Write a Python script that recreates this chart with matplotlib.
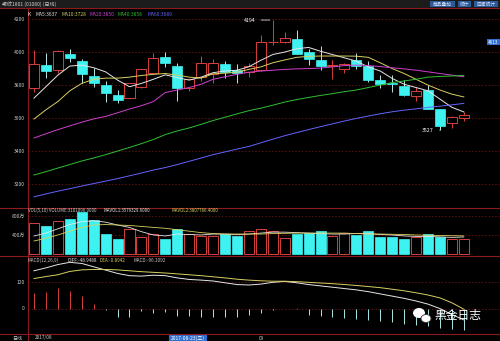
import numpy as np
import matplotlib
matplotlib.use("Agg")
import matplotlib.pyplot as plt
from matplotlib.patches import Ellipse, Rectangle

plt.rcParams['font.family'] = ['Noto Sans CJK SC', 'DejaVu Sans']

# ---------------- data ----------------
opens = [3780, 3921, 3891, 3988, 3945, 3856, 3798, 3739, 3723, 3786, 3871, 3968, 3915,
         3780, 3851, 3870, 3925, 3891, 3880, 3891, 4058, 4059, 4079, 3998, 3952, 3917,
         3900, 3952, 3915, 3830, 3814, 3796, 3735, 3770, 3653, 3572, 3598]
highs = [4012, 3992, 4010, 4016, 3960, 3903, 3824, 3770, 3815, 3900, 3994, 3998, 3931,
         3845, 3976, 3960, 3945, 3925, 3935, 4103, 4194, 4123, 4133, 4020, 4038, 3950,
         3935, 3992, 3945, 3860, 3860, 3830, 3790, 3800, 3655, 3610, 3638]
lows = [3760, 3842, 3873, 3941, 3812, 3788, 3699, 3693, 3720, 3780, 3865, 3911, 3705,
        3765, 3824, 3812, 3842, 3812, 3851, 3885, 4042, 4055, 3986, 3922, 3891, 3834,
        3875, 3900, 3820, 3780, 3757, 3735, 3703, 3655, 3527, 3540, 3585]
closes = [3927, 3885, 4006, 3965, 3865, 3810, 3750, 3707, 3810, 3895, 3962, 3935, 3780,
          3836, 3931, 3931, 3881, 3871, 3915, 4063, 4062, 4087, 3986, 3958, 3917, 3921,
          3925, 3917, 3830, 3806, 3804, 3739, 3763, 3655, 3553, 3604, 3618]

ma5 = [3721, 3790, 3860, 3915, 3921, 3905, 3880, 3830, 3790, 3810, 3835, 3862, 3845,
       3830, 3848, 3875, 3885, 3890, 3911, 3950, 3985, 4000, 4020, 4028, 4005, 3985,
       3965, 3945, 3910, 3885, 3840, 3805, 3785, 3765, 3715, 3665, 3637]
ma10 = [3594, 3650, 3700, 3765, 3810, 3835, 3842, 3842, 3848, 3858, 3865, 3870, 3860,
        3848, 3842, 3868, 3872, 3878, 3895, 3910, 3935, 3952, 3968, 3974, 3976, 3976,
        3976, 3975, 3968, 3935, 3900, 3870, 3835, 3800, 3770, 3745, 3728]
ma20 = [3479, 3505, 3530, 3553, 3575, 3595, 3610, 3632, 3655, 3675, 3700, 3755, 3770,
        3785, 3805, 3835, 3850, 3865, 3878, 3885, 3890, 3895, 3898, 3900, 3903, 3910,
        3918, 3921, 3918, 3912, 3905, 3898, 3890, 3880, 3870, 3860, 3850]
ma40 = [3255, 3275, 3297, 3318, 3340, 3358, 3378, 3400, 3422, 3445, 3470, 3500, 3522,
        3540, 3562, 3585, 3605, 3625, 3645, 3660, 3678, 3697, 3712, 3725, 3737, 3748,
        3760, 3770, 3785, 3800, 3815, 3825, 3835, 3848, 3852, 3855, 3858]
ma60 = [3123, 3140, 3157, 3172, 3188, 3203, 3218, 3233, 3250, 3267, 3285, 3300, 3318,
        3338, 3358, 3378, 3395, 3412, 3428, 3450, 3472, 3493, 3512, 3530, 3548, 3565,
        3582, 3598, 3612, 3626, 3638, 3648, 3656, 3665, 3672, 3680, 3689]

# volume in 万
volume = [646, 590, 695, 737, 891, 716, 414, 309, 520, 358, 421, 316, 520, 421, 386,
          386, 421, 386, 484, 526, 484, 337, 414, 435, 484, 379, 435, 400, 484, 358,
          365, 316, 351, 414, 358, 323, 310]
mavol1 = [379, 440, 530, 620, 680, 700, 670, 610, 560, 470, 400, 380, 420, 410, 400,
          420, 420, 410, 420, 440, 460, 460, 450, 440, 430, 420, 420, 430, 430, 410,
          400, 380, 370, 370, 360, 350, 358]
mavol2 = [274, 330, 400, 480, 560, 610, 620, 610, 600, 580, 560, 541, 510, 480, 450,
          430, 420, 420, 420, 420, 430, 435, 440, 440, 440, 440, 440, 430, 420, 420,
          415, 410, 400, 395, 390, 385, 381]

diff = [172, 185, 200, 210, 205, 190, 175, 160, 150, 148, 152, 150, 140, 133, 130, 126,
        118, 110, 108, 112, 120, 124, 118, 110, 104, 98, 92, 86, 78, 68, 58, 48, 36, 22,
        2, -25, -49]
dea = [137, 146, 154, 169, 176, 178, 178, 176, 172, 168, 165, 162, 158, 154, 150, 145,
       140, 134, 130, 127, 125, 125, 123, 120, 117, 114, 110, 106, 101, 96, 89, 82, 73,
       63, 50, 28, -1]
macd_hist = [70, 78, 93, 81, 59, 23, -3, -35, -38, -8, -20, -15, -30, -30, -35, -35, -35,
             -35, -25, -20, -5, 2, 5, -25, -30, -35, -40, -45, -50, -55, -60, -66, -72,
             -78, -85, -92, -96]

price_ticks = [4200, 4000, 3800, 3600, 3400, 3200]
vol_ticks = [400, 800]
vol_tick_labels = ['400万', '800万']
macd_ticks = [0, 120]

# ---------------- styling ----------------
BG = 'black'
UP = '#d8413c'
DOWN = '#3ff2f2'
BORDER = '#8e1b1b'
GRID = '#5c1414'
TXT = '#c8c8c8'
C_MA5, C_MA10, C_MA20, C_MA40, C_MA60 = '#e6e6e6', '#d8d060', '#d040d0', '#30c030', '#6464ff'

W, H = 500, 341
fig = plt.figure(figsize=(W / 100, H / 100), dpi=100, facecolor=BG)


def px_axes(x0, y0, x1, y1):
    ax = fig.add_axes([x0 / W, 1 - y1 / H, (x1 - x0) / W, (y1 - y0) / H])
    ax.set_facecolor(BG)
    for s in ax.spines.values():
        s.set_visible(False)
    ax.set_xticks([])
    ax.set_yticks([])
    ax.set_xlim(-0.5, 39.03)
    return ax


def px_text(xp, yp, s, color=TXT, size=3.4, ha='left'):
    fig.text(xp / W, 1 - yp / H, s, color=color, fontsize=size, va='center', ha=ha)


x = np.arange(len(closes))
up = np.array(closes) >= np.array(opens)
bw = 0.84

# ---------------- main K-line panel ----------------
ax = px_axes(28, 8, 500, 207)
ax.set_ylim(3061, 4267)
for t in price_ticks:
    ax.axhline(t, color=GRID, lw=0.6, ls=(0, (2, 2)), zorder=0)
for i in x:
    col = UP if up[i] else DOWN
    ax.vlines(i, lows[i], highs[i], color=col if up[i] else '#b8e8e8', lw=0.7, zorder=2)
    lo, hi = min(opens[i], closes[i]), max(opens[i], closes[i])
    h = max(hi - lo, 2)
    if up[i]:
        ax.add_patch(Rectangle((i - bw / 2, lo), bw, h, facecolor=BG, edgecolor=col, lw=0.7, zorder=3))
    else:
        ax.add_patch(Rectangle((i - bw / 2, lo), bw, h, facecolor=col, edgecolor=col, lw=0.5, zorder=3))
for vals, c in [(ma5, C_MA5), (ma10, C_MA10), (ma20, C_MA20), (ma40, C_MA40), (ma60, C_MA60)]:
    ax.plot(x, vals, color=c, lw=0.7, zorder=4)

# high / low markers
ih, il = int(np.argmax(highs)), int(np.argmin(lows))
ax.annotate(str(highs[ih]), xy=(ih, highs[ih]), xytext=(ih - 1.45, highs[ih]), color='white',
            fontsize=3.8, va='center', ha='right',
            arrowprops=dict(arrowstyle='-', color='white', lw=0.5))
ax.annotate(str(lows[il]), xy=(il, lows[il]), xytext=(il - 0.5, lows[il]), color='white',
            fontsize=3.8, va='center', ha='right',
            arrowprops=dict(arrowstyle='-', color='white', lw=0.5))

# legend line
items = [(28, 'K', 'white'), (35, 'MA5:%d' % ma5[-1], C_MA5), (61, 'MA10:%d' % ma10[-1], C_MA10),
         (89, 'MA20:%d' % ma20[-1], C_MA20), (118, 'MA40:%d' % ma40[-1], C_MA40),
         (147, 'MA60:%d' % ma60[-1], C_MA60)]
for xp, s, c in items:
    px_text(xp, 14, s, c, 3.5)

# ---------------- volume panel ----------------
axv = px_axes(28, 207, 500, 256)
axv.set_ylim(-42, 989)
for t in vol_ticks:
    axv.axhline(t, color=GRID, lw=0.6, ls=(0, (2, 2)), zorder=0)
for i in x:
    if up[i]:
        axv.add_patch(Rectangle((i - bw / 2, 0), bw, volume[i], facecolor=BG, edgecolor=UP, lw=0.7, zorder=3))
    else:
        axv.add_patch(Rectangle((i - bw / 2, 0), bw, volume[i], facecolor=DOWN, edgecolor=DOWN, lw=0.5, zorder=3))
axv.plot(x, mavol1, color=C_MA5, lw=0.6, zorder=4)
axv.plot(x, mavol2, color=C_MA10, lw=0.6, zorder=4)
px_text(28, 210.5, 'VOL(5,10) VOLUME:3101096.0000', TXT, 3.2)
px_text(104, 210.5, 'MAVOL1:3579329.6000', C_MA5, 3.2)
px_text(171, 210.5, 'MAVOL2:3807786.4000', C_MA10, 3.2)

# ---------------- MACD panel ----------------
axm = px_axes(28, 256, 500, 334)
axm.set_ylim(-112.5, 238.5)
for t in macd_ticks:
    axm.axhline(t, color=GRID, lw=0.6, ls=(0, (2, 2)), zorder=0)
hcol = [UP if v > 0 else '#a8e8e8' for v in macd_hist]
axm.vlines(x, 0, macd_hist, colors=hcol, lw=0.7, zorder=2)
axm.plot(x, diff, color=C_MA5, lw=0.7, zorder=3)
axm.plot(x, dea, color=C_MA10, lw=0.7, zorder=3)
px_text(28, 260, 'MACD(12,26,9)', TXT, 3.3)
px_text(67, 260, 'DIFF:-48.9488', C_MA5, 3.3)
px_text(100, 260, 'DEA:-0.8942', C_MA10, 3.3)
px_text(133, 260, 'MACD:-96.1092', TXT, 3.3)

# ---------------- left scales ----------------
def ylab(axis, vals, labels):
    for v, s in zip(vals, labels):
        yd = axis.transData.transform((0, v))[1]
        fig.text(25 / W, yd / (fig.dpi * fig.get_figheight()), s, color=TXT, fontsize=3.6,
                 ha='right', va='center')

ylab(ax, price_ticks, [str(t) for t in price_ticks])
ylab(axv, vol_ticks, vol_tick_labels)
ylab(axm, macd_ticks, [str(t) for t in macd_ticks])

# ---------------- frame lines ----------------
frame = fig.add_axes([0, 0, 1, 1], facecolor='none')
frame.set_xlim(0, W)
frame.set_ylim(H, 0)
frame.axis('off')
for yy in (8, 207.5, 256, 334):
    frame.plot([0, W], [yy, yy], color=BORDER, lw=0.8)
frame.plot([28, 28], [8, 341], color=BORDER, lw=0.8)

# title bar
frame.add_patch(Rectangle((0, 0), W, 7.5, facecolor='#1c1c1c', edgecolor='none'))
frame.text(2, 4, '螺纹1801 (01080) (日线)', color='#d0d0d0', fontsize=3.6, va='center')
for bx, bwid, s in [(430, 25, '商品叠加'), (458, 13, '统计'), (474, 24, '区间统计')]:
    frame.add_patch(Rectangle((bx, 1), bwid, 5.5, facecolor='#2a5a9a', edgecolor='none'))
    frame.text(bx + bwid / 2, 4, s, color='#e0e8ff', fontsize=3.4, ha='center', va='center')

# right price box
frame.add_patch(Rectangle((487, 39), 13, 6, facecolor='#2f6fd0', edgecolor='none'))
frame.text(493.5, 42, '4613', color='white', fontsize=3.4, ha='center', va='center')

# bottom date row
frame.text(17, 338, '日线', color=TXT, fontsize=3.6, ha='center', va='center')
frame.text(35, 338, '2017/08', color=TXT, fontsize=3.4, ha='left', va='center')
frame.add_patch(Rectangle((169, 334.5), 38, 6.5, facecolor='#2f6fd0', edgecolor='none'))
frame.text(188, 338, '2017-08-23(三)', color='white', fontsize=3.6, ha='center', va='center')
frame.text(259, 338, '09', color=TXT, fontsize=3.4, ha='left', va='center')

# watermark
frame.add_patch(Ellipse((419, 313), 12, 10, facecolor='white', edgecolor='none'))
frame.add_patch(Ellipse((426, 318.5), 10, 8, facecolor='white', edgecolor='#333333', lw=0.6))
frame.text(434, 316, '黑金日志', color='white', fontsize=8.5, ha='left', va='center')

fig.savefig('out.png', dpi=100, facecolor=BG)
